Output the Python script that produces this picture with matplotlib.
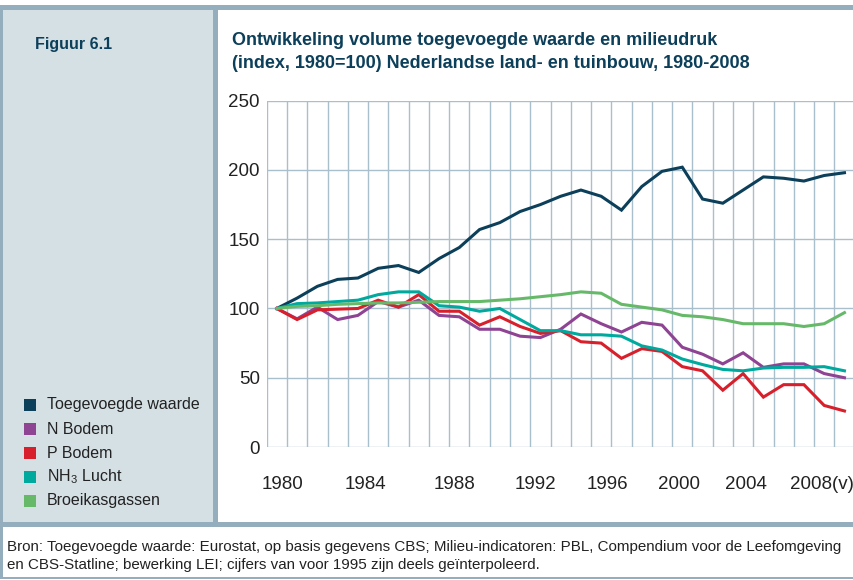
import matplotlib
matplotlib.use("Agg")
import matplotlib.pyplot as plt
from matplotlib.patches import Rectangle

years = list(range(1980, 2009))
tick_labels = ["1980", "1984", "1988", "1992", "1996", "2000", "2004", "2008(v)"]
# label centres as placed in the original (in year-index units, not exactly on the years)
tick_pos = [0.3, 4.35, 8.75, 12.75, 16.3, 19.85, 23.15, 26.9]

toegevoegde_waarde = [100, 107.5, 116, 121, 122, 129, 131, 126, 136, 144,
                      157, 162, 170, 175, 181, 185.5, 181, 171, 188, 199,
                      202, 179, 176, 185.5, 195, 194, 192, 196, 198]
n_bodem = [100, 92.5, 101, 92, 95, 105, 101, 106, 95, 94,
           85, 85, 80, 79, 85, 96, 89, 83, 90, 88,
           72, 67, 60, 68, 57.5, 60, 60, 53, 50]
p_bodem = [100, 92, 99, 99.5, 100, 106, 101, 110, 98, 98,
           88, 94, 87, 82, 84, 76, 75, 64, 71, 69,
           58, 55, 41, 53, 36, 45, 45, 30, 26]
nh3_lucht = [100, 103.5, 104, 105, 106, 110, 112, 112, 102, 101,
             98, 100, 92, 84, 84, 81, 81, 80, 73, 70,
             63.5, 59.5, 56, 55, 57, 57.5, 57.5, 58, 55]
broeikasgassen = [100, 101.5, 102, 103, 103.5, 104, 104, 104.5, 105, 105,
                  105, 106, 107, 108.5, 110, 112, 111, 103, 101, 99,
                  95, 94, 92, 89, 89, 89, 87, 89, 97]

series_names = ["Toegevoegde waarde", "N Bodem", "P Bodem", "NH$_3$ Lucht", "Broeikasgassen"]
series_values = [toegevoegde_waarde, n_bodem, p_bodem, nh3_lucht, broeikasgassen]
series_colors = ["#0c3f5a", "#8e4393", "#d7202b", "#00a99e", "#67b96a"]

title_text = ("Ontwikkeling volume toegevoegde waarde en milieudruk\n"
              "(index, 1980=100) Nederlandse land- en tuinbouw, 1980-2008")
source_text = ("Bron: Toegevoegde waarde: Eurostat, op basis gegevens CBS; Milieu-indicatoren: PBL, "
               "Compendium voor de Leefomgeving\n"
               "en CBS-Statline; bewerking LEI; cijfers van voor 1995 zijn deels ge\u00efnterpoleerd.")

plt.rcParams["font.family"] = ["Liberation Sans", "DejaVu Sans"]
plt.rcParams["mathtext.fontset"] = "custom"
plt.rcParams["mathtext.rm"] = "Liberation Sans"
plt.rcParams["mathtext.it"] = "Liberation Sans"

W, H = 854, 580
fig = plt.figure(figsize=(W / 100, H / 100), dpi=100)

frame = "#95aebe"
panel = "#d5e0e5"
navy = "#0c3f5a"


def box(x0, y0, x1, y1, color):
    # pixel coords, y from top
    fig.patches.append(Rectangle((x0 / W, 1 - y1 / H), (x1 - x0) / W, (y1 - y0) / H,
                                 transform=fig.transFigure, color=color, zorder=0, lw=0))


box(0, 5, W, 10, frame)
box(0, 5, 3, 579, frame)
box(3, 10, 213, 522, panel)
box(213, 10, 218, 522, frame)
box(0, 522, W, 527, frame)
box(0, 577, W, 579, frame)

fig.text(35 / W, 1 - 45 / H, "Figuur 6.1", color=navy, fontsize=11.5, fontweight="bold",
         va="center", ha="left")
fig.text(232 / W, 1 - 52 / H, title_text, color=navy, fontsize=13, fontweight="bold",
         va="center", ha="left", linespacing=1.5)
fig.text(7 / W, 1 - 556 / H, source_text, color="#222222", fontsize=10.9,
         va="center", ha="left", linespacing=1.35)

# legend in left panel
for i, (name, color) in enumerate(zip(series_names, series_colors)):
    yc = 405 + i * 24
    box(24, yc - 6, 36, yc + 6, color)
    fig.text(47 / W, 1 - yc / H, name, color="#222222", fontsize=11.5, va="center", ha="left")

left, right, top, bottom = 266.7, 854.6, 100.7, 447
ax = fig.add_axes([left / W, 1 - bottom / H, (right - left) / W, (bottom - top) / H])
x = list(range(len(years)))
for vals, color in zip(series_values, series_colors):
    ax.plot(x, vals, color=color, lw=2.2, solid_joinstyle="miter", zorder=3)

ax.set_xlim(-0.5, len(years) - 0.5)
ax.set_ylim(0, 250)
ax.set_yticks([0, 50, 100, 150, 200, 250])
ax.set_xticks(tick_pos)
ax.set_xticklabels(tick_labels)
grid_color = "#a9bfcc"
for k in range(len(years) + 1):
    ax.axvline(k - 0.5, color=grid_color, lw=1.0, zorder=1)
for v in [0, 50, 100, 150, 200, 250]:
    ax.axhline(v, color=grid_color, lw=1.0, zorder=1)
for s in ax.spines.values():
    s.set_visible(False)
ax.tick_params(length=0, labelsize=13.5, colors="#222222")
ax.tick_params(axis="y", pad=5)
ax.tick_params(axis="x", pad=21)
ax.set_facecolor("none")

fig.savefig("out.png", dpi=100)
